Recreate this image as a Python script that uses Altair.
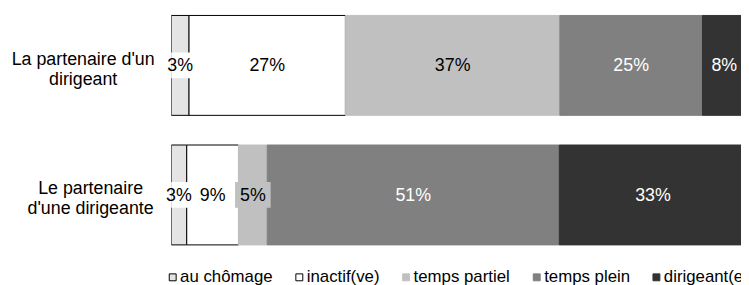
import json
import altair as alt
import pandas as pd

FONT = "Liberation Sans"

groups = ["La partenaire d'un dirigeant", "Le partenaire d'une dirigeante"]
group_lines = [["La partenaire d'un", "dirigeant"], ["Le partenaire", "d'une dirigeante"]]
categories = ["au chômage", "inactif(ve)", "temps partiel", "temps plein", "dirigeant(e)"]
shares_la_partenaire = [3.1, 27.2, 37.3, 24.8, 7.6]
shares_le_partenaire = [2.7, 9.0, 5.0, 50.8, 32.6]

fills = ["#e4e4e4", "#ffffff", "#c0c0c0", "#808080", "#333333"]
strokes = ["#000000", "#000000", "#c0c0c0", "#808080", "#333333"]
box_fills = ["#ffffff", "#ffffff", "#c0c0c0", "#808080", "#333333"]

rows = []
for g, shares in zip(groups, [shares_la_partenaire, shares_le_partenaire]):
    for i, (c, v) in enumerate(zip(categories, shares)):
        rows.append({"group": g, "cat": c, "order": i, "value": v})
df = pd.DataFrame(rows)

base = (
    alt.Chart(df)
    .transform_stack(stack="value", groupby=["group"], as_=["x0", "x1"],
                     sort=[alt.SortField("order", order="ascending")])
    .transform_calculate(mid="(datum.x0 + datum.x1) / 2",
                         label="format(datum.value, '.0f') + '%'")
)

x_scale = alt.Scale(domain=[0, 99.1], nice=False, zero=True)

label_expr = (f"datum.value == {json.dumps(groups[0])} ? {json.dumps(group_lines[0])} "
              f": {json.dumps(group_lines[1])}")

y_enc = alt.Y(
    "group:N", sort=groups,
    scale=alt.Scale(domain=groups, paddingInner=0.229, paddingOuter=0.046),
    axis=alt.Axis(
        title=None, domain=False, ticks=False, tickSize=0, grid=False,
        labelAlign="center", labelBaseline="middle", labelFont=FONT,
        labelFontSize=18, labelColor="#000000", labelLineHeight=20,
        labelExpr=label_expr, labelLimit=0, labelBound=False, labelOffset=-5.5,
        labelPadding={"condition": {"test": f"datum.value == {json.dumps(groups[1])}",
                                    "value": 82}, "value": 89.5},
    ),
)

legend = alt.Legend(
    orient="none", legendX=-7, legendY=262, direction="horizontal", columns=5,
    title=None, symbolType="square", symbolSize=49, symbolStrokeWidth=1,
    labelFont=FONT, labelFontSize=17, labelFontWeight="normal", labelColor="#000000",
    columnPadding=18, labelOffset={"expr": "-1"}, padding=0, labelLimit=0,
)

bars = base.mark_bar(clip=True, strokeWidth=1).encode(
    x=alt.X("x0:Q", scale=x_scale, axis=None),
    x2="x1:Q",
    y=y_enc,
    fill=alt.Fill("cat:N", sort=categories,
                  scale=alt.Scale(domain=categories, range=fills), legend=legend),
    stroke=alt.Stroke("cat:N", sort=categories,
                      scale=alt.Scale(domain=categories, range=strokes), legend=legend),
)

boxes = base.mark_point(
    shape="M-1,-0.722H1V0.722H-1Z", filled=True, size=1296, opacity=1,
    strokeWidth=0, clip=True,
).encode(
    x=alt.X("mid:Q", scale=x_scale, axis=None),
    y=y_enc,
    color=alt.Color("cat:N", scale=alt.Scale(domain=categories, range=box_fills), legend=None),
)

texts = base.mark_text(
    font=FONT, fontSize=18, baseline="middle", align="center", dy=1
).encode(
    x=alt.X("mid:Q", scale=x_scale, axis=None),
    y=y_enc,
    text="label:N",
    color=alt.condition(
        alt.FieldOneOfPredicate(field="cat", oneOf=["temps plein", "dirigeant(e)"]),
        alt.value("#ffffff"), alt.value("#000000")),
)

chart = (
    alt.layer(bars, boxes, texts)
    .properties(
        width=576, height=244,
        autosize=alt.AutoSizeParams(type="none"),
        padding={"left": 165, "top": 0, "right": 0, "bottom": 33},
        background="#ffffff",
    )
    .configure_view(stroke=None)
)

chart.save("out.html", embed_options={"renderer": "svg", "actions": False})
